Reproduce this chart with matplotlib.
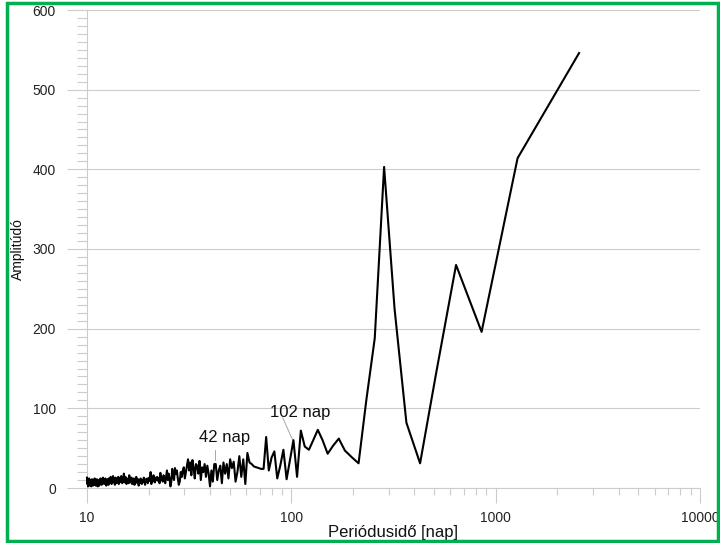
import numpy as np
import matplotlib
matplotlib.use('Agg')
import matplotlib.pyplot as plt
from matplotlib.patches import Rectangle
from matplotlib.ticker import LogLocator, MultipleLocator, NullFormatter

plt.rcParams['font.family'] = ['Liberation Sans', 'DejaVu Sans']

# amplitude spectrum, one value per harmonic k (period = record length / k)
record_days = 2560
amp_long = [546, 414, 196, 280, 145, 31, 82, 225, 403, 188,
            110, 31, 39, 47, 62, 53, 43, 60, 73, 60,
            48, 52, 72, 14, 60, 35, 11, 48, 28, 12,
            46, 38, 22, 64, 24, 24, 25, 26, 27, 30,
            32, 44, 5]
amp_mid = [36, 14, 40, 20, 8, 33, 25, 36, 12, 30, 18, 32, 6, 28, 22, 10, 30,
           30, 8, 22, 2, 18, 28, 14, 30, 20, 26, 10, 34, 18, 28, 30, 12, 25,
           35, 16, 32, 22, 36, 28, 20]
amp_short = [12, 26, 22, 14, 20, 8, 4, 12, 22, 18, 25, 10, 15, 24, 8, 2,
             12, 18, 10, 22, 14, 6, 12, 16, 8, 14, 10, 19, 6, 12, 9, 14,
             10, 13, 7, 11, 16, 8, 12, 5, 20, 9, 13]
amp_tail = [10, 6, 12, 8, 11, 4, 9, 13, 7, 10, 5, 8, 12, 6, 9, 3, 11, 7, 10,
            14, 6, 9, 4, 12, 8, 10, 5, 13, 9, 7, 11, 16, 6, 10, 8, 12, 5, 9,
            14, 7, 11, 18, 8, 12, 6, 10, 15, 9, 13, 7, 11, 5, 14, 10, 8, 12,
            6, 9, 13, 4, 10, 7, 11, 15, 8, 12, 5, 9, 14, 10, 6, 8, 12, 4, 9,
            11, 6, 10, 3, 8, 12, 7, 9, 5, 11, 8, 13, 6, 10, 4, 9, 7, 12, 5,
            8, 3, 10, 6, 9, 2, 7, 11, 5, 8, 3, 9, 6, 12, 4, 7, 10, 3, 8, 5,
            11, 6, 2, 9, 7, 4, 10, 3, 12, 6, 8, 2, 11, 5, 13]
amplitude = np.array(amp_long + amp_mid + amp_short + amp_tail, dtype=float)
harmonic = np.arange(1, len(amplitude) + 1)
period = record_days / harmonic

notes = ['42 nap', '102 nap']
note_text_xy = [(47.3, 64), (110, 95)]
note_line = [((42.3, 48), (42.3, 35)), ((90.8, 88), (101.6, 60))]

grey = '#cccccc'

fig = plt.figure(figsize=(7.2, 5.43), dpi=100)
ax = fig.add_axes([87 / 720, 1 - 488 / 543, 613 / 720, 478 / 543])

ax.plot(period, amplitude, color='black', lw=1.5, clip_on=False, zorder=3)

ax.set_xscale('log')
ax.set_xlim(10, 10000)
ax.set_ylim(0, 600)

ax.xaxis.set_major_locator(LogLocator(base=10))
ax.xaxis.set_minor_locator(LogLocator(base=10, subs=np.arange(2, 10)))
ax.xaxis.set_minor_formatter(NullFormatter())
ax.set_xticks([10, 100, 1000, 10000])
ax.set_xticklabels(['10', '100', '1000', '10000'])
ax.yaxis.set_major_locator(MultipleLocator(100))
ax.yaxis.set_minor_locator(MultipleLocator(10))

ax.tick_params(axis='x', which='major', length=10.8, width=0.8, color=grey,
               labelsize=10, pad=6, labelcolor='#222222')
ax.tick_params(axis='x', which='minor', length=5, width=0.8, color=grey)
ax.tick_params(axis='y', which='major', length=14.4, width=0.8, color=grey,
               labelsize=10, pad=8, labelcolor='#222222')
ax.tick_params(axis='y', which='minor', length=7, width=0.8, color=grey)

ax.grid(axis='y', which='major', color=grey, lw=0.8)
ax.grid(axis='x', visible=False)
for side in ['top', 'right']:
    ax.spines[side].set_visible(False)
for side in ['left', 'bottom']:
    ax.spines[side].set_color(grey)
    ax.spines[side].set_linewidth(0.8)

ax.set_xlabel('Periódusidő [nap]', fontsize=12, color='#111111')
ax.set_ylabel('Amplitúdó', fontsize=10, color='#111111')
ax.xaxis.set_label_coords(0.5, -0.078)
ax.yaxis.set_label_coords(-0.101, 0.5)

for txt, xy, (p0, p1) in zip(notes, note_text_xy, note_line):
    ax.text(xy[0], xy[1], txt, fontsize=12, ha='center', va='center',
            color='#111111')
    ax.plot([p0[0], p1[0]], [p0[1], p1[1]], color='#999999', lw=0.6)

# green frame round the whole picture
fig.patches.append(Rectangle((7 / 720, 2 / 543), 711 / 720, 538 / 543,
                             transform=fig.transFigure, fill=False,
                             edgecolor='#00b050', lw=2.5))

fig.savefig('out.png', dpi=100)
